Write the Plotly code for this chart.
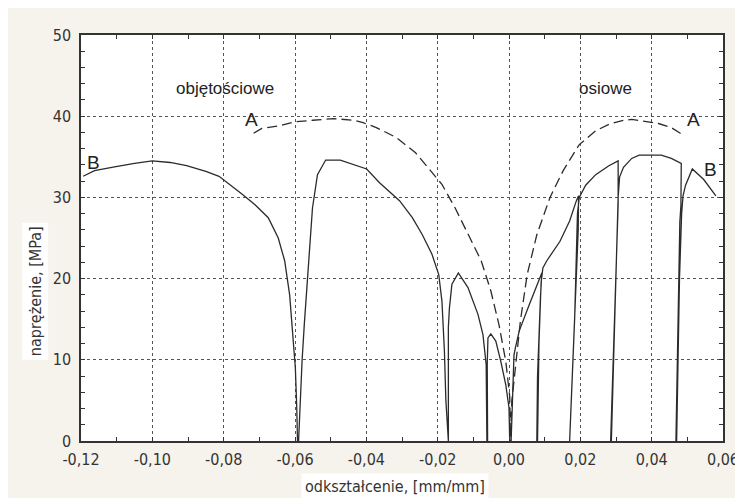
import plotly.graph_objects as go

# Curve B (solid) - strain [mm/mm], stress [MPa]
B_strain = [-0.1194, -0.1162, -0.1106, -0.1050, -0.1000, -0.0950, -0.0904, -0.0850, -0.0813, -0.0780,
            -0.0748, -0.0712, -0.0675, -0.0647, -0.0629, -0.0615, -0.0606, -0.0599, -0.0595, -0.0593,
            -0.0590, -0.0585, -0.0580, -0.0574, -0.0560, -0.0551, -0.0537, -0.0514, -0.0473, -0.0427,
            -0.0399, -0.0363, -0.0307, -0.0271, -0.0243, -0.0216, -0.0197, -0.0188, -0.0181, -0.0177,
            -0.0172,
            -0.0170, -0.0170, -0.0167, -0.0160, -0.0142, -0.0115, -0.0087, -0.0073, -0.0064, -0.0062,
            -0.0060, -0.0061, -0.0059, -0.0051, -0.0037, -0.0023, -0.0009, 0.0000, 0.0002,
            0.0006, 0.0010, 0.0014, 0.0018, 0.0029, 0.0057, 0.0083, 0.0092,
            0.0088, 0.0080, 0.0078,
            0.0080, 0.0084, 0.0090, 0.0095, 0.0106, 0.0143, 0.0170, 0.0189, 0.0195,
            0.0194, 0.0182, 0.0170,
            0.0172, 0.0184, 0.0192, 0.0197, 0.0215, 0.0243, 0.0280, 0.0306,
            0.0306, 0.0295, 0.0285,
            0.0287, 0.0299, 0.0306, 0.0310, 0.0321, 0.0344, 0.0365, 0.0427, 0.0455, 0.0483,
            0.0482, 0.0479, 0.0473, 0.0468,
            0.0470, 0.0478, 0.0484, 0.0488, 0.0495, 0.0514, 0.0546, 0.0580]
B_stress = [32.6, 33.3, 33.75, 34.2, 34.5, 34.3, 33.9, 33.2, 32.6, 31.5,
            30.4, 29.1, 27.5, 25.0, 22.2, 18.0, 13.1, 9.0, 4.0, 0.0,
            0.0, 5.3, 10.0, 14.3, 22.6, 28.7, 32.8, 34.6, 34.6, 33.9,
            33.5, 31.8, 29.6, 27.5, 25.4, 23.0, 20.5, 17.2, 11.0, 5.0,
            0.0,
            0.0, 14.0, 16.4, 19.3, 20.7, 18.9, 15.6, 13.1, 9.4, 0.0,
            0.0, 9.5, 12.7, 13.2, 12.3, 9.8, 6.9, 4.1, 0.0,
            0.0, 6.0, 10.6, 11.5, 13.6, 16.8, 19.7, 20.7,
            17.5, 8.0, 0.0,
            0.0, 12.0, 19.5, 21.3, 22.2, 24.6, 27.1, 29.6, 30.2,
            25.9, 12.0, 0.0,
            0.0, 15.0, 28.0, 30.0, 31.5, 32.8, 33.9, 34.5,
            29.1, 15.0, 0.0,
            0.0, 18.0, 30.0, 32.5, 33.7, 34.8, 35.2, 35.2, 34.8, 34.2,
            29.0, 27.0, 14.0, 0.0,
            0.0, 20.0, 28.0, 30.2, 31.5, 33.5, 32.2, 30.2]

# Curve A (dashed)
A_strain = [-0.0716, -0.0693, -0.0647, -0.0601, -0.0550, -0.0491, -0.0436, -0.0409, -0.0372, -0.0317,
            -0.0262, -0.0211, -0.0188, -0.0151, -0.0115, -0.0078, -0.0051, -0.0028, -0.0009, 0.0002,
            0.0004, 0.0008, 0.0014, 0.0032, 0.0051, 0.0078, 0.0115, 0.0152, 0.0197, 0.0243,
            0.0280, 0.0321, 0.0344, 0.0372, 0.0419, 0.0455, 0.0484]
A_stress = [37.9, 38.5, 38.8, 39.3, 39.5, 39.7, 39.5, 39.2, 38.6, 37.4,
            35.5, 32.8, 31.6, 28.7, 25.4, 22.2, 18.5, 14.3, 9.8, 5.5,
            0.5, 5.0, 7.4, 14.8, 20.5, 25.4, 30.0, 33.3, 36.5, 38.2,
            39.0, 39.5, 39.6, 39.4, 39.1, 38.6, 37.8]

x_ticks = [-0.12, -0.10, -0.08, -0.06, -0.04, -0.02, 0.00, 0.02, 0.04, 0.06]
x_tick_labels = ["-0,12", "-0,10", "-0,08", "-0,06", "-0,04", "-0,02", "0,00", "0,02", "0,04", "0,06"]
y_ticks = [0, 10, 20, 30, 40, 50]
y_tick_labels = ["0", "10", "20", "30", "40", "50"]

region_labels = ["objętościowe", "osiowe"]
region_x = [-0.0795, 0.0270]
region_y = [43.4, 43.4]

curve_labels = ["A", "A", "B", "B"]
curve_lab_x = [-0.0722, 0.0516, -0.1165, 0.0566]
curve_lab_y = [39.6, 39.6, 34.3, 33.4]

line_col = "#2b2b2b"
narrow = "Liberation Sans Narrow, Arial Narrow, DejaVu Sans Condensed, sans-serif"
plain = "Liberation Sans, Arial, sans-serif"

fig = go.Figure()
fig.add_trace(go.Scatter(x=B_strain, y=B_stress, mode="lines",
                         line=dict(color=line_col, width=1.3), showlegend=False))
fig.add_trace(go.Scatter(x=A_strain, y=A_stress, mode="lines",
                         line=dict(color=line_col, width=1.3, dash="10px,5px"), showlegend=False))

for t, x, y in zip(region_labels, region_x, region_y):
    fig.add_annotation(x=x, y=y, text=t, showarrow=False,
                       font=dict(family=plain, size=17, color="#222"))
for t, x, y in zip(curve_labels, curve_lab_x, curve_lab_y):
    fig.add_annotation(x=x, y=y, text=t, showarrow=False,
                       font=dict(family=plain, size=19, color="#222"))

fig.add_annotation(xref="paper", yref="paper", x=0.489, y=-0.112, text="odkształcenie, [mm/mm]",
                   xanchor="center", yanchor="middle",
                   showarrow=False, bgcolor="white", borderpad=3,
                   font=dict(family=narrow, size=16, color="#333"))
fig.add_annotation(xref="paper", yref="paper", x=-0.071, y=0.37, text="naprężenie, [MPa]",
                   xanchor="center", yanchor="middle",
                   textangle=-90, showarrow=False, bgcolor="white", borderpad=3,
                   font=dict(family=narrow, size=16, color="#333"))

axis_common = dict(showline=True, linecolor="#333", linewidth=1.5, mirror="ticks",
                   ticks="inside", ticklen=4, tickcolor="#333",
                   showgrid=True, gridcolor="#555", griddash="dot", gridwidth=1,
                   zeroline=False,
                   tickfont=dict(family=narrow, size=16, color="#333"))

fig.update_xaxes(range=[-0.12, 0.06], tickvals=x_ticks, ticktext=x_tick_labels,
                 ticklabelstandoff=3,
                 minor=dict(dtick=0.01, ticks="inside", ticklen=4, tickcolor="#333", showgrid=False),
                 **axis_common)
fig.update_yaxes(range=[0, 50], tickvals=y_ticks, ticktext=y_tick_labels,
                 ticklabelstandoff=5,
                 minor=dict(dtick=2, ticks="inside", ticklen=4, tickcolor="#333", showgrid=False),
                 **axis_common)

fig.update_layout(width=743, height=498, autosize=False,
                  margin=dict(l=73, r=17, t=27, b=65),
                  paper_bgcolor="#f6f3ed", plot_bgcolor="white",
                  showlegend=False)

fig.write_html("out.html")
